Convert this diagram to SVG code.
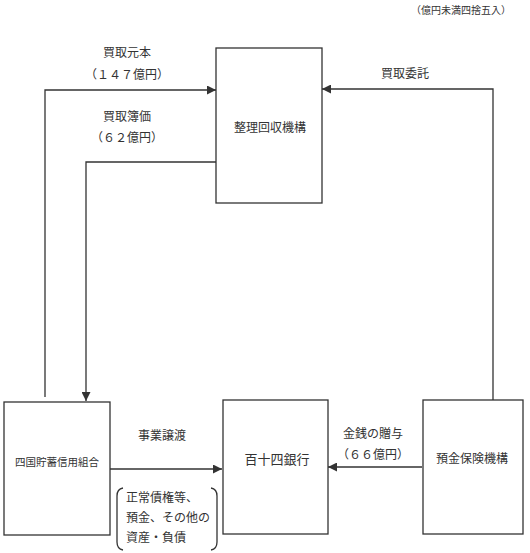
<svg xmlns="http://www.w3.org/2000/svg" width="530" height="553" viewBox="0 0 530 553">
<style>
text{font-family:"Noto Sans CJK JP","Noto Sans CJK SC",sans-serif;fill:#333;font-size:12px}
.box{fill:#fff;stroke:#333;stroke-width:1.3}
.ln{fill:none;stroke:#333;stroke-width:1.3}
.c{text-anchor:middle}
</style>
<defs>
<marker id="ah" viewBox="0 0 10 10" refX="10" refY="5" markerWidth="9" markerHeight="9" markerUnits="userSpaceOnUse" orient="auto">
<path d="M0,0 L10,5 L0,10 z" fill="#333"/>
</marker>
</defs>
<rect width="530" height="553" fill="#fff"/>
<text x="461" y="14" class="c" style="font-size:10px">（億円未満四捨五入）</text>
<g id="connectors">
<path class="ln" d="M45,397 V90 H216" marker-end="url(#ah)"/>
<path class="ln" d="M216,162 H86 V401" marker-end="url(#ah)"/>
<path class="ln" d="M493,400 V89 H322" marker-end="url(#ah)"/>
<path class="ln" d="M110,469 H222" marker-end="url(#ah)"/>
<path class="ln" d="M422,467 H328" marker-end="url(#ah)"/>
<text x="127" y="57" class="c">買取元本</text>
<text x="127" y="79" class="c">（１４７億円）</text>
<text x="127" y="121" class="c">買取簿価</text>
<text x="127" y="142" class="c">（６２億円）</text>
<text x="405" y="78" class="c">買取委託</text>
<text x="162" y="440" class="c">事業譲渡</text>
<text x="373" y="438" class="c">金銭の贈与</text>
<text x="373" y="459" class="c">（６６億円）</text>
</g>
<g id="n-seiri">
<rect class="box" x="216" y="48" width="106" height="155"/>
<text x="270" y="132" class="c">整理回収機構</text>
</g>
<g id="n-shikoku">
<rect class="box" x="4" y="402" width="106" height="133"/>
<text x="57" y="466" class="c" style="font-size:10.5px">四国貯蓄信用組合</text>
</g>
<g id="n-114">
<rect class="box" x="223" y="400" width="105" height="134"/>
<text x="277" y="464" class="c" style="font-size:13px">百十四銀行</text>
</g>
<g id="n-dic">
<rect class="box" x="423" y="400" width="100" height="134"/>
<text x="472" y="463" class="c">預金保険機構</text>
</g>
<g id="n-assets">
<path class="ln" d="M123,488 Q117,489 117,496 V542 Q117,549 123,550"/>
<path class="ln" d="M211,488 Q217,489 217,496 V542 Q217,549 211,550"/>
<text x="126" y="502">正常債権等、</text>
<text x="126" y="522">預金、その他の</text>
<text x="126" y="542">資産・負債</text>
</g>
</svg>
